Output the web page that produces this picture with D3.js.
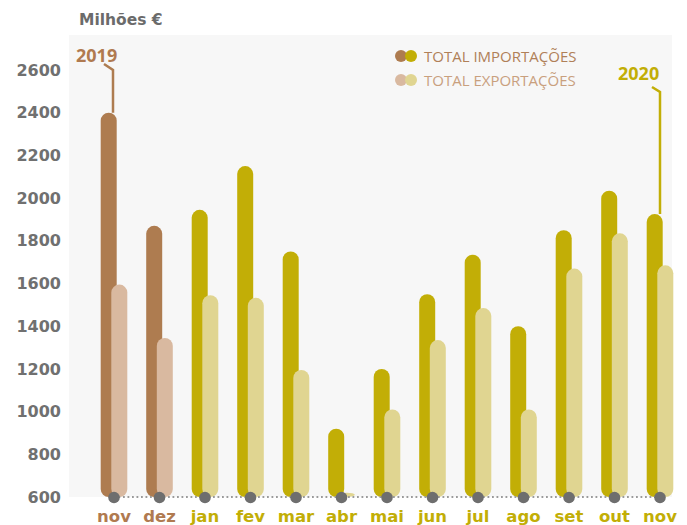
<!DOCTYPE html>
<html>
<head>
<meta charset="utf-8">
<script src="https://cdn.jsdelivr.net/npm/d3@7"></script>
<style>
  body { margin: 0; background: #fff; }
  svg { display: block; }
</style>
</head>
<body>
<div id="chart"></div>
<script>
// monthly totals, millions of euros
var months = ['nov', 'dez', 'jan', 'fev', 'mar', 'abr', 'mai', 'jun', 'jul', 'ago', 'set', 'out', 'nov'];
var years = [2019, 2019, 2020, 2020, 2020, 2020, 2020, 2020, 2020, 2020, 2020, 2020, 2020];
var imports = [2400, 1870, 1945, 2150, 1750, 920, 1200, 1550, 1735, 1400, 1850, 2035, 1925];
var exports = [1595, 1345, 1545, 1533, 1195, 620, 1010, 1335, 1485, 1010, 1670, 1835, 1685];
var yTicks = [600, 800, 1000, 1200, 1400, 1600, 1800, 2000, 2200, 2400, 2600];
var legendLabels = ['TOTAL IMPORTAÇÕES', 'TOTAL EXPORTAÇÕES'];

var width = 687;
var height = 525;

var colors = {
    2019: { imp: '#ae7c50', exp: '#d9b9a0', text: '#b07a50' },
    2020: { imp: '#c2ae06', exp: '#e0d591', text: '#c2ae06' }
};

var svg = d3.select('#chart')
    .append('svg')
    .attr('width', width)
    .attr('height', height);

var x = d3.scalePoint().domain(d3.range(months.length)).range([114, 660]);
var y = d3.scaleLinear().domain([600, 2600]).range([497, 70]);

// plot background
svg.append('rect')
    .attr('x', 69).attr('y', 35)
    .attr('width', 603).attr('height', y(600) - 35)
    .attr('fill', '#f7f7f7');

// title
svg.append('text')
    .attr('x', 79).attr('y', 25)
    .attr('font-family', 'DejaVu Sans').attr('font-weight', 'bold')
    .attr('font-size', 15.5).attr('fill', '#6b6b6b')
    .text('Milhões €');

// y axis labels
var yAxis = d3.axisLeft(y).tickValues(yTicks).tickSize(0).tickPadding(0).tickFormat(d3.format('d'));
var gy = svg.append('g').attr('transform', 'translate(61,0)').call(yAxis);
gy.select('.domain').remove();
gy.selectAll('text')
    .attr('font-family', 'DejaVu Sans').attr('font-weight', 'bold')
    .attr('font-size', 16).attr('fill', '#707070');

var barW = 16;
var off = 5.3;
var idx = d3.range(months.length);

// import bars
svg.append('g').selectAll('rect')
    .data(idx).join('rect')
    .attr('x', function(i) { return x(i) - off - barW / 2; })
    .attr('y', function(i) { return y(imports[i]); })
    .attr('width', barW)
    .attr('height', function(i) { return y(600) - y(imports[i]); })
    .attr('rx', barW / 2)
    .attr('fill', function(i) { return colors[years[i]].imp; });

// export bars
svg.append('g').selectAll('rect')
    .data(idx).join('rect')
    .attr('x', function(i) { return x(i) + off - barW / 2; })
    .attr('y', function(i) { return y(exports[i]); })
    .attr('width', barW)
    .attr('height', function(i) { return y(600) - y(exports[i]); })
    .attr('rx', barW / 2)
    .attr('fill', function(i) { return colors[years[i]].exp; });

// dotted baseline and month dots
svg.append('line')
    .attr('x1', x(0)).attr('x2', x(months.length - 1) + 6)
    .attr('y1', y(600)).attr('y2', y(600))
    .attr('stroke', '#9a9a9a').attr('stroke-width', 2)
    .attr('stroke-dasharray', '1.8 2.7');

svg.append('g').selectAll('circle')
    .data(idx).join('circle')
    .attr('cx', function(i) { return x(i); })
    .attr('cy', y(600) + 0.5)
    .attr('r', 5.8)
    .attr('fill', '#6e6e6e');

// month labels
svg.append('g').selectAll('text')
    .data(idx).join('text')
    .attr('x', function(i) { return x(i); })
    .attr('y', 522)
    .attr('text-anchor', 'middle')
    .attr('font-family', 'DejaVu Sans').attr('font-weight', 'bold')
    .attr('font-size', 16.5)
    .attr('fill', function(i) { return colors[years[i]].text; })
    .text(function(i) { return months[i]; });

// legend
var lg = svg.append('g');
var legendCols = [[colors[2019].imp, colors[2020].imp], [colors[2019].exp, colors[2020].exp]];
var legendText = ['#b08058', '#c9a07e'];
legendLabels.forEach(function(label, k) {
    var cy = 56 + k * 24;
    lg.append('circle').attr('cx', 401).attr('cy', cy).attr('r', 6).attr('fill', legendCols[k][0]);
    lg.append('circle').attr('cx', 411).attr('cy', cy).attr('r', 6).attr('fill', legendCols[k][1]);
    lg.append('text')
        .attr('x', 424).attr('y', cy + 6)
        .attr('font-family', 'Open Sans').attr('font-size', 15)
        .attr('fill', legendText[k])
        .text(label);
});

// year annotations
var first = 0;
var last = months.length - 1;
svg.append('text')
    .attr('x', 76).attr('y', 61.5)
    .attr('font-family', 'Open Sans').attr('font-weight', 'bold')
    .attr('font-size', 18).attr('fill', colors[2019].text)
    .text(years[first]);
svg.append('path')
    .attr('d', d3.line()([[104, 64], [x(first) - 1, 70], [x(first) - 1, y(imports[first])]]))
    .attr('fill', 'none').attr('stroke', colors[2019].imp).attr('stroke-width', 2.5);

svg.append('text')
    .attr('x', 618).attr('y', 80)
    .attr('font-family', 'Open Sans').attr('font-weight', 'bold')
    .attr('font-size', 18).attr('fill', colors[2020].text)
    .text(years[last]);
svg.append('path')
    .attr('d', d3.line()([[652, 87], [x(last), 92], [x(last), y(imports[last])]]))
    .attr('fill', 'none').attr('stroke', colors[2020].imp).attr('stroke-width', 2.5);
</script>
</body>
</html>
